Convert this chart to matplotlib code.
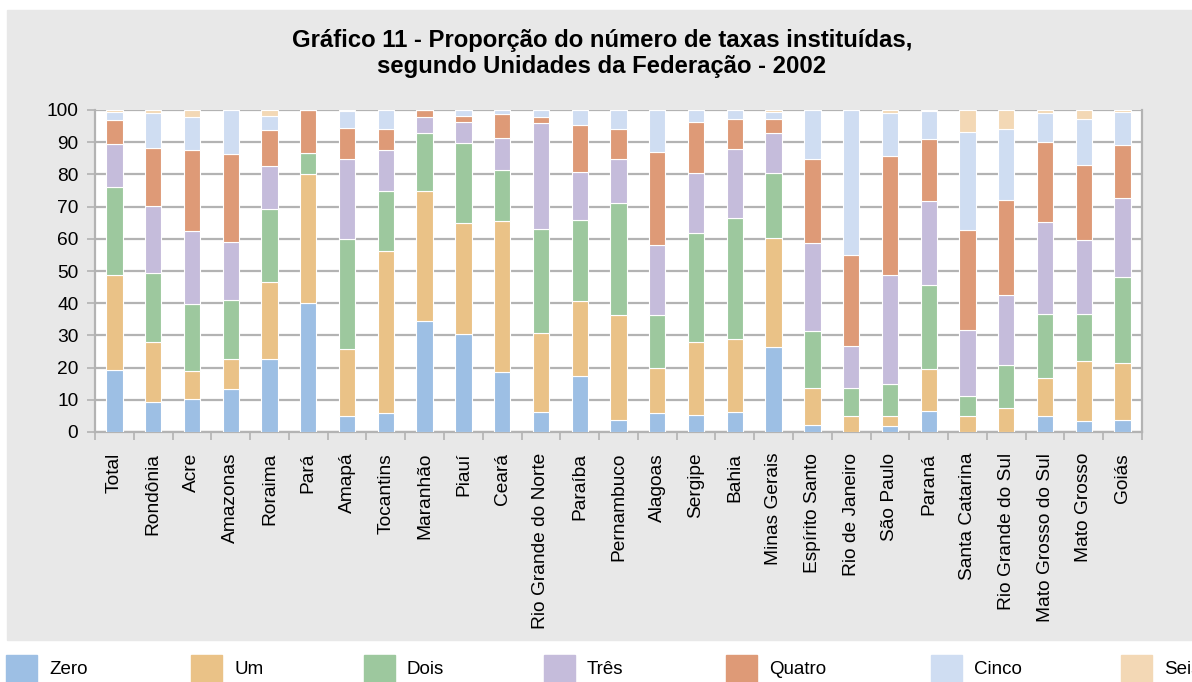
import matplotlib
matplotlib.use('Agg')
import matplotlib.pyplot as plt
from matplotlib.patches import Rectangle
import numpy as np

plt.rcParams['font.family'] = ['Liberation Sans', 'DejaVu Sans']

# dados (% de municípios por número de taxas)
estados = ['Total', 'Rondônia', 'Acre', 'Amazonas', 'Roraima', 'Pará', 'Amapá',
           'Tocantins', 'Maranhão', 'Piauí', 'Ceará', 'Rio Grande do Norte',
           'Paraíba', 'Pernambuco', 'Alagoas', 'Sergipe', 'Bahia', 'Minas Gerais',
           'Espírito Santo', 'Rio de Janeiro', 'São Paulo', 'Paraná',
           'Santa Catarina', 'Rio Grande do Sul', 'Mato Grosso do Sul',
           'Mato Grosso', 'Goiás']

zero = [19.4, 9.3, 10.2, 13.5, 22.6, 40.0, 5.1, 6.0, 34.5, 30.3, 18.7, 6.3, 17.4, 3.6,
        5.9, 5.4, 6.3, 26.5, 2.3, 0.0, 1.9, 6.4, 0.0, 0.0, 5.1, 3.4, 3.8]
um = [29.5, 18.8, 8.6, 9.1, 24.1, 40.0, 20.7, 50.2, 40.3, 34.6, 46.7, 24.3, 23.4, 32.7,
      14.1, 22.7, 22.6, 33.8, 11.5, 5.0, 3.2, 13.1, 5.0, 7.6, 11.6, 18.6, 17.7]
dois = [27.2, 21.3, 21.0, 18.4, 22.6, 6.5, 34.0, 18.6, 18.0, 24.9, 16.1, 32.3, 24.9, 34.9,
        16.4, 33.7, 37.6, 20.0, 17.7, 8.8, 9.9, 26.0, 6.3, 13.1, 19.9, 14.5, 26.5]
tres = [13.2, 20.7, 22.5, 18.0, 13.2, 0.0, 24.9, 12.8, 5.0, 6.4, 9.9, 33.0, 15.0, 13.6,
        21.7, 18.6, 21.4, 12.7, 27.2, 12.8, 33.9, 26.2, 20.4, 21.9, 28.6, 23.2, 24.6]
quatro = [7.7, 18.2, 25.4, 27.4, 11.2, 13.5, 9.8, 6.4, 2.2, 2.0, 7.3, 2.0, 14.5, 9.3,
          28.8, 15.9, 9.3, 4.3, 26.1, 28.3, 36.8, 19.4, 30.9, 29.3, 25.0, 23.2, 16.6]
cinco = [2.5, 10.7, 10.2, 13.6, 4.5, 0.0, 5.2, 6.0, 0.0, 1.8, 1.3, 2.1, 4.8, 5.9,
         13.1, 3.7, 2.8, 2.1, 15.2, 45.1, 13.3, 8.5, 30.7, 22.1, 8.8, 14.3, 10.3]
seis = [0.5, 1.0, 2.1, 0.0, 1.8, 0.0, 0.3, 0.0, 0.0, 0.0, 0.0, 0.0, 0.0, 0.0,
        0.0, 0.0, 0.0, 0.6, 0.0, 0.0, 1.0, 0.4, 6.7, 6.0, 1.0, 2.8, 0.5]

nomes = ['Zero', 'Um', 'Dois', 'Três', 'Quatro', 'Cinco', 'Seis']
series = [zero, um, dois, tres, quatro, cinco, seis]
cores = ['#9dbfe4', '#eac287', '#9dc89e', '#c5bcdb', '#de9a77', '#cfddf2', '#f3d8b5']

W, H = 1192, 682
fig = plt.figure(figsize=(W / 100, H / 100), dpi=100)
fig.patch.set_facecolor('white')

# painel cinza de fundo (atrás de tudo)
fundo = fig.add_axes([0, 0, 1, 1], zorder=-5)
fundo.set_xlim(0, W)
fundo.set_ylim(H, 0)
fundo.axis('off')
fundo.add_patch(Rectangle((7, 10), W - 7, 630, color='#e8e8e8'))

ax = fig.add_axes([95 / W, 250 / H, 1047 / W, 322 / H], zorder=1)
ax.set_facecolor('white')

x = np.arange(len(estados))
base = np.zeros(len(estados))
for nome, vals, cor in zip(nomes, series, cores):
    vals = np.array(vals)
    ax.bar(x, vals, 0.42, bottom=base, color=cor, edgecolor='white', linewidth=0.8,
           label=nome, zorder=3)
    base += vals

ax.set_xlim(-0.5, len(estados) - 0.5)
ax.set_ylim(0, 100)
ax.set_yticks(range(0, 101, 10))
ax.yaxis.grid(True, color='#b3b3b3', linewidth=1.6, zorder=0)
ax.set_axisbelow(True)

ax.set_xticks(x)
ax.set_xticklabels(estados, rotation=90, va='top', ha='center')
ax.set_xticks(np.arange(-0.5, len(estados), 1), minor=True)
ax.tick_params(axis='x', which='major', length=0, pad=15, labelsize=13.8)
ax.tick_params(axis='x', which='minor', length=6, width=1.2, color='#b3b3b3')
ax.tick_params(axis='y', length=6, width=1.2, color='#b3b3b3', pad=6, labelsize=13.8)

for lado in ['left', 'right', 'bottom']:
    ax.spines[lado].set_color('#b3b3b3')
    ax.spines[lado].set_linewidth(1.6)
ax.spines['top'].set_visible(False)

fig.text(0.505, 0.957,
         'Gráfico 11 - Proporção do número de taxas instituídas,\n'
         'segundo Unidades da Federação - 2002',
         ha='center', va='top', fontsize=17.2, fontweight='bold', linespacing=1.15,
         family=['Liberation Sans Narrow', 'Liberation Sans', 'DejaVu Sans'])

# legenda manual (cortada na borda como no original)
leg_x = [6, 191, 364, 544, 726, 931, 1121]
for px, nome, cor in zip(leg_x, nomes, cores):
    fundo.add_patch(Rectangle((px, 655), 31, 40, color=cor))
    fundo.text(px + 43, 670, nome, fontsize=13.5, va='center', ha='left')

fig.savefig('out.png', dpi=100)
